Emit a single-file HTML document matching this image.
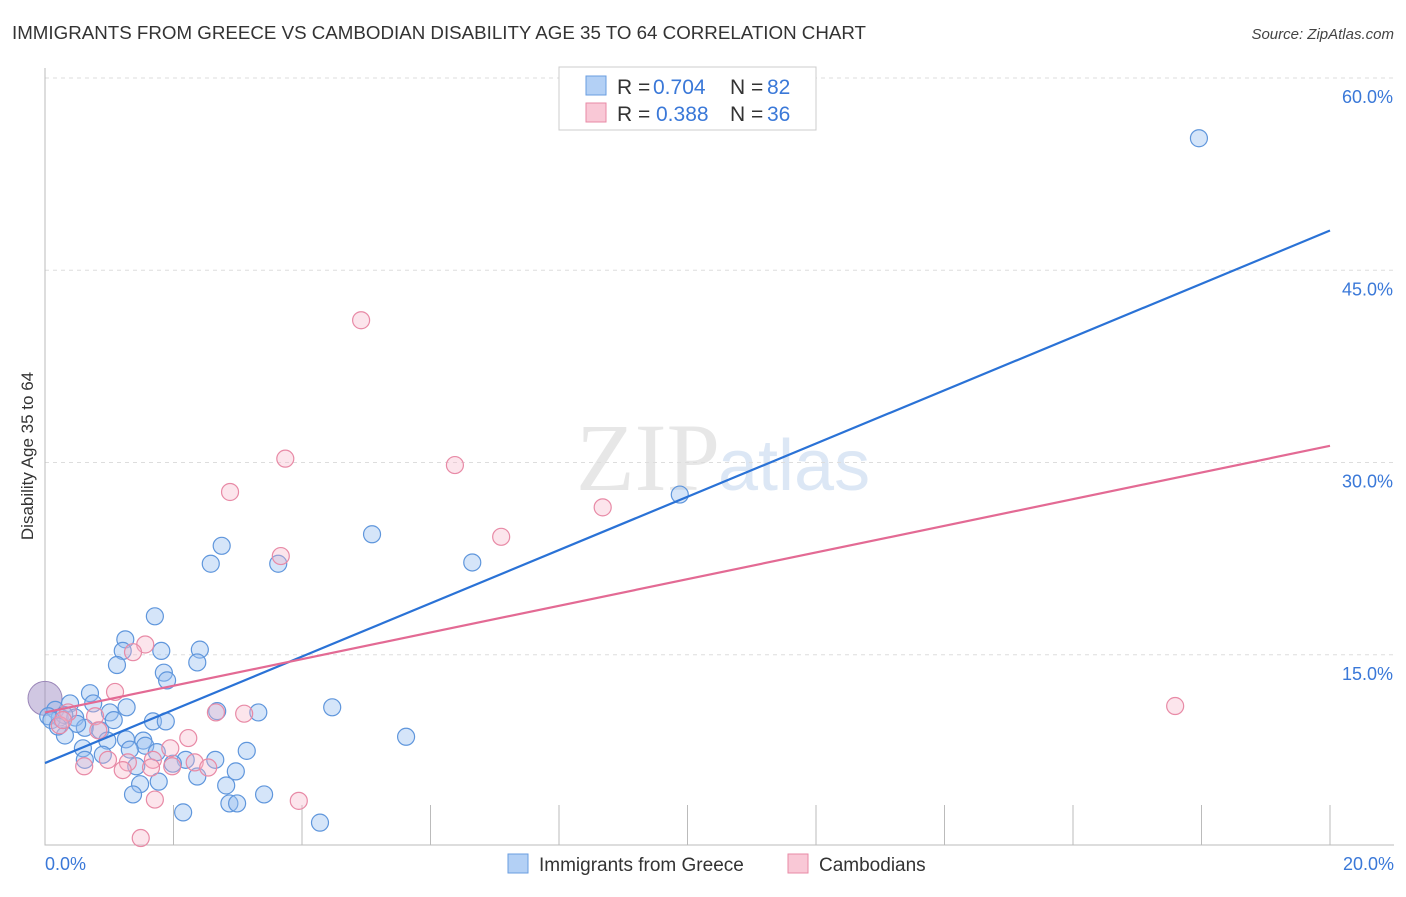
<!DOCTYPE html>
<html><head><meta charset="utf-8"><style>
body{margin:0;background:#fff;font-family:"Liberation Sans",sans-serif}
</style></head><body>
<svg id="chart" width="1406" height="892" viewBox="0 0 1406 892" xmlns="http://www.w3.org/2000/svg" font-family="Liberation Sans, sans-serif">
<text x="12" y="39" font-size="18" fill="#333" textLength="854" lengthAdjust="spacingAndGlyphs">IMMIGRANTS FROM GREECE VS CAMBODIAN DISABILITY AGE 35 TO 64 CORRELATION CHART</text>
<text x="1394" y="39" font-size="15" fill="#444" text-anchor="end" font-style="italic">Source: ZipAtlas.com</text>
<text x="720" y="490" font-size="96" fill="#ddd" text-anchor="end" font-family="Liberation Serif, serif" opacity="0.7">ZIP</text>
<text x="718" y="490" font-size="72" fill="#c6d8ef" opacity="0.6">atlas</text>
<g id="grid"></g>
<g id="axes"></g>
<g id="marks"></g>
<text transform="translate(33,456) rotate(-90)" font-size="17" fill="#333" text-anchor="middle">Disability Age 35 to 64</text>
<g font-size="21">
<rect x="559" y="67" width="257" height="63" fill="#fff" stroke="#ccc"/>
<rect x="586" y="76" width="20" height="19" fill="#b3d0f5" stroke="#6a9ee0"/>
<text x="617" y="94" fill="#333">R =</text>
<text x="653" y="94" fill="#3a78d8">0.704</text>
<text x="730" y="94" fill="#333">N =</text>
<text x="767" y="94" fill="#3a78d8">82</text>
<rect x="586" y="103" width="20" height="19" fill="#f9c8d6" stroke="#e88aa6"/>
<text x="617" y="121" fill="#333">R =</text>
<text x="656" y="121" fill="#3a78d8">0.388</text>
<text x="730" y="121" fill="#333">N =</text>
<text x="767" y="121" fill="#3a78d8">36</text>
</g>
<g>
<rect x="508" y="854" width="20" height="19" fill="#b3d0f5" stroke="#6a9ee0"/>
<text x="539" y="871" font-size="19" fill="#333">Immigrants from Greece</text>
<rect x="788" y="854" width="20" height="19" fill="#f9c8d6" stroke="#e88aa6"/>
<text x="819" y="871" font-size="19" fill="#333">Cambodians</text>
</g>
</svg>
<script>
const yTicks=[15,30,45,60];
const yTickLabels=["15.0%","30.0%","45.0%","60.0%"];
const xTicks=[0,2,4,6,8,10,12,14,16,18,20];
const blueX=[17.96,9.88,5.09,6.65,2.75,2.58,3.63,1.71,1.25,1.21,1.81,2.41,1.12,2.37,1.85,1.90,0.70,0.75,1.27,4.47,3.32,2.68,1.68,1.88,1.01,1.07,0.39,0.16,0.23,0.47,0.62,0.31,5.62,0.86,0.97,1.26,1.53,1.56,1.32,1.74,3.14,0.59,0.90,0.62,2.19,2.65,1.99,1.42,2.97,2.37,1.48,1.77,2.82,1.37,3.41,2.87,2.99,2.15,4.28,0.05,0.1,0.3,0.5,0.2];
const blueY=[55.3,27.5,24.4,22.2,23.5,22.1,22.1,18.0,16.2,15.3,15.3,15.4,14.2,14.4,13.6,13.0,12.0,11.2,10.9,10.9,10.5,10.6,9.8,9.8,10.5,9.9,11.2,10.7,10.1,10.1,9.3,8.7,8.6,9.1,8.3,8.4,8.3,7.9,7.6,7.4,7.5,7.7,7.2,6.8,6.8,6.8,6.5,6.3,5.9,5.5,4.9,5.1,4.8,4.1,4.1,3.4,3.4,2.7,1.9,10.2,9.9,10.3,9.6,9.4];
const pinkX=[4.92,3.74,6.38,2.88,8.68,7.10,3.67,1.56,1.37,1.09,17.59,2.66,3.10,0.36,0.78,0.23,0.83,2.23,1.95,0.98,1.68,2.33,1.29,0.61,1.21,2.54,1.98,1.65,1.71,3.95,1.49,0.28];
const pinkY=[41.1,30.3,29.8,27.7,26.5,24.2,22.7,15.8,15.2,12.1,11.0,10.5,10.4,10.5,10.2,9.5,9.1,8.5,7.7,6.8,6.8,6.6,6.6,6.3,6.0,6.2,6.3,6.2,3.7,3.6,0.7,9.9];
const blueLine=[6.55,48.1];
const pinkLine=[10.5,31.3];
const X=v=>45+v/20*1285, Y=v=>847-v/60*769;
const ns="http://www.w3.org/2000/svg";
function mk(parent,tag,attrs){const e=document.createElementNS(ns,tag);for(const k in attrs)e.setAttribute(k,attrs[k]);document.getElementById(parent).appendChild(e);return e;}
yTicks.forEach((t,i)=>{
 const g=mk('grid','line',{x1:45,x2:1394,y1:Y(t),y2:Y(t),stroke:'#ddd','stroke-dasharray':'4,4'});
 
 
 const l=mk('grid','text',{x:1393,y:Y(t)+25,'font-size':18,fill:'#3a78d8','text-anchor':'end'});
 l.textContent=yTickLabels[i];
 
 
});
const ax=mk('axes','path',{d:'M45,68V845H1394',fill:'none',stroke:'#bbb'});


xTicks.forEach(t=>{
 const tk=mk('axes','line',{x1:X(t),x2:X(t),y1:805,y2:845,stroke:'#bbb'});
 
 
});
[[0,"0.0%",'start',45],[20,"20.0%",'end',1394]].forEach(a=>{
 const l=mk('axes','text',{x:a[3],y:870,'font-size':18,fill:'#3a78d8','text-anchor':a[2]});
 l.textContent=a[1];
 
 
});
const bb=mk('marks','circle',{cx:X(0),cy:Y(11.6),r:17,fill:'rgba(150,130,190,0.45)',stroke:'#9a86b8'});


blueX.forEach((x,i)=>{
 const c=mk('marks','circle',{cx:X(x),cy:Y(blueY[i]),r:8.5,fill:'rgba(150,190,240,0.4)',stroke:'#5f96dc','stroke-width':1.2});
 
 
});
pinkX.forEach((x,i)=>{
 const c=mk('marks','circle',{cx:X(x),cy:Y(pinkY[i]),r:8.5,fill:'rgba(245,180,200,0.35)',stroke:'#e88aa6','stroke-width':1.2});
 
 
});
const bl=mk('marks','line',{x1:X(0),y1:Y(blueLine[0]),x2:X(20),y2:Y(blueLine[1]),stroke:'#2a72d6','stroke-width':2.2});


const pl=mk('marks','line',{x1:X(0),y1:Y(pinkLine[0]),x2:X(20),y2:Y(pinkLine[1]),stroke:'#e36a94','stroke-width':2.2});


</script>
</body></html>
